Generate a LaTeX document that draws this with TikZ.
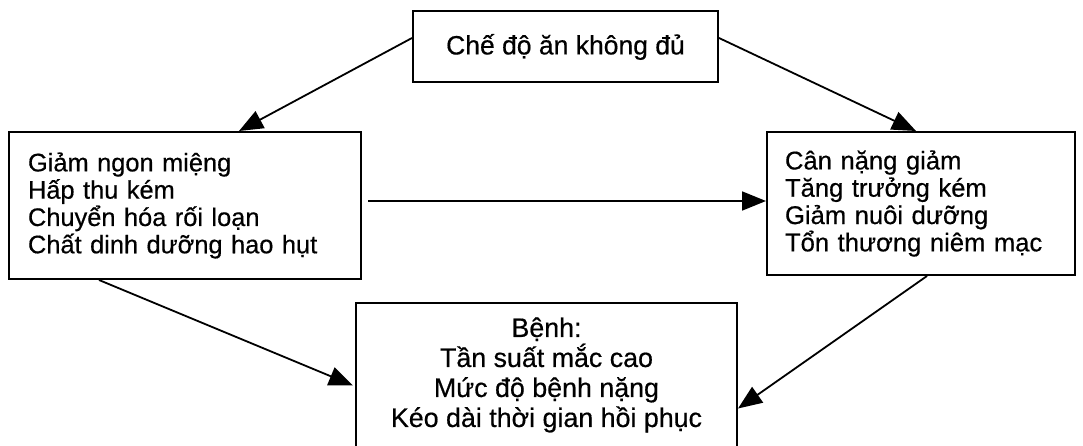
\documentclass[tikz,border=0pt]{standalone}
\usepackage{fontspec}
\setmainfont{Liberation Sans}
\newfontfamily\boxfont{Liberation Sans}[FakeBold=0.5]
\usetikzlibrary{arrows.meta,calc}
\begin{document}
\begin{tikzpicture}[x=1pt,y=-1pt,
  box/.style={draw,line width=2pt,rectangle,inner sep=0pt},
  arr/.style={line width=1.8pt,-{Triangle[length=24pt,width=19pt]}}]
\useasboundingbox (0,0) rectangle (1083,446);
% boxes
\node[box,minimum width=305,minimum height=71,font=\boxfont\fontsize{26.5}{28}\selectfont]
  (top) at (565.5,47) {Chế độ ăn không đủ};
\node[box,minimum width=352,minimum height=147,align=left,
  text width=314,inner xsep=19pt,font=\boxfont\fontsize{25.4}{27.3}\selectfont]
  (left) at (185,205.5) {Giảm ngon miệng\\Hấp thu kém\\Chuyển hóa rối loạn\\Chất dinh dưỡng hao hụt};
\node[box,minimum width=308,minimum height=143,align=left,
  text width=272,inner xsep=18pt,font=\boxfont\fontsize{25.6}{27.3}\selectfont]
  (right) at (921,203.5) {Cân nặng giảm\\Tăng trưởng kém\\Giảm nuôi dưỡng\\Tổn thương niêm mạc};
\node[box,minimum width=381,minimum height=145,align=center,
  font=\boxfont\fontsize{26.8}{30}\selectfont]
  (bottom) at (546.5,375) {Bệnh:\\Tần suất mắc cao\\Mức độ bệnh nặng\\Kéo dài thời gian hồi phục};
% connectors
\draw[arr] ($(top.west)+(0,-9)$) -- ($(left.north west)+(231,0)$);
\draw[arr] ($(top.east)+(0,-9)$) -- ($(right.north west)+(150,0)$);
\draw[arr] ($(left.east)+(6,-4.5)$) -- ($(right.west)+(0,-2.5)$);
\draw[arr] ($(left.south west)+(91,0)$) -- ($(bottom.west)+(-2,10.5)$);
\draw[arr] ($(right.south west)+(161,0)$) -- ($(bottom.east)+(0,33.5)$);
\end{tikzpicture}
\end{document}
